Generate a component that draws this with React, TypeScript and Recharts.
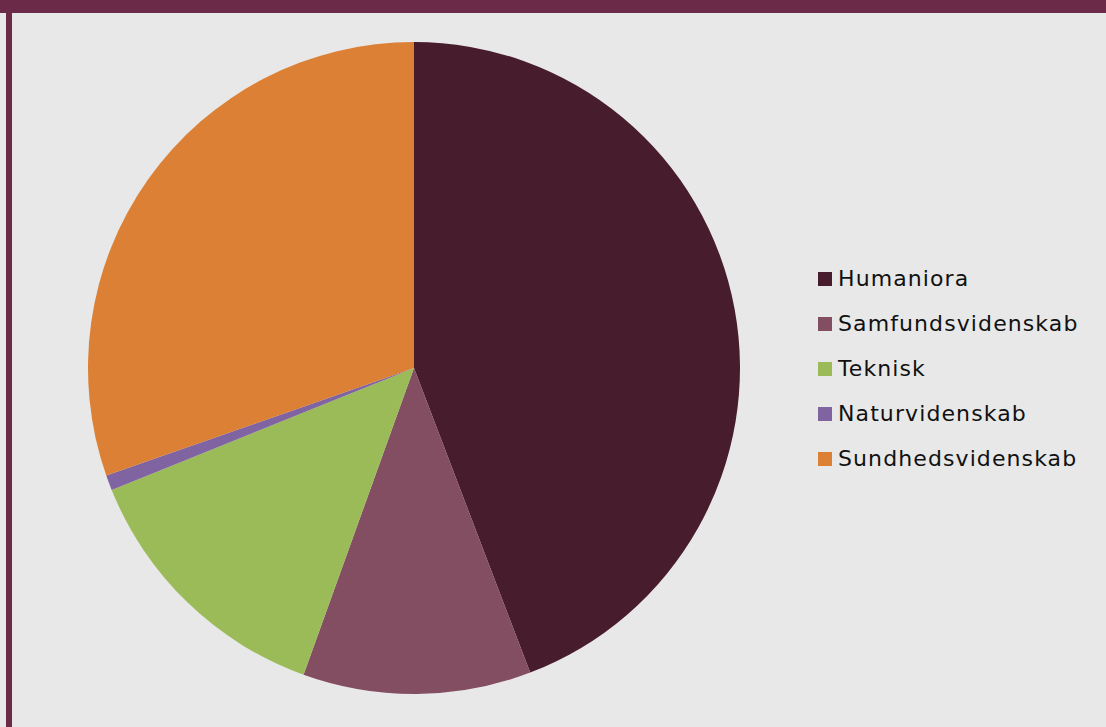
import React from 'react';
import { PieChart, Pie, Cell, Legend } from 'recharts';

const categories = ['Humaniora', 'Samfundsvidenskab', 'Teknisk', 'Naturvidenskab', 'Sundhedsvidenskab'];
const shares = [44.2, 11.3, 13.4, 0.75, 30.35];
const colors = ['#471c2d', '#834e62', '#9bbb59', '#8064a2', '#dc8035'];

const data = categories.map((name, i) => ({ name, value: shares[i] }));

// legend drawn in the data order (recharts would sort it by name)
const renderLegend = () => (
  <div style={{ fontFamily: '"DejaVu Sans", Verdana, sans-serif', fontSize: 22, letterSpacing: 1.1, color: '#111' }}>
    {categories.map((name, i) => (
      <div key={name} style={{ display: 'flex', alignItems: 'center', height: 45 }}>
        <span style={{ width: 14, height: 14, background: colors[i], marginRight: 6, display: 'inline-block' }} />
        <span>{name}</span>
      </div>
    ))}
  </div>
);

const App: React.FC = () => {
  return (
    <div style={{ position: 'fixed', left: 0, top: 0, width: 1106, height: 727, background: '#e8e8e8', overflow: 'hidden' }}>
      <div style={{ position: 'absolute', left: 0, top: 0, width: 1106, height: 13, background: '#6b2a47' }} />
      <div style={{ position: 'absolute', left: 6, top: 0, width: 6, height: 727, background: '#6b2a47' }} />
      <div style={{ position: 'absolute', left: 0, top: 0 }}>
        <PieChart width={1106} height={727} margin={{ top: 0, right: 0, bottom: 0, left: 0 }}>
          <Pie
            data={data}
            dataKey="value"
            nameKey="name"
            cx={414}
            cy={368}
            outerRadius={326}
            startAngle={90}
            endAngle={-270}
            stroke="none"
            isAnimationActive={false}
          >
            {data.map((d, i) => (
              <Cell key={d.name} fill={colors[i]} />
            ))}
          </Pie>
          <Legend
            content={renderLegend}
            layout="vertical"
            align="right"
            verticalAlign="middle"
            wrapperStyle={{ position: 'absolute', left: 818, top: 256, width: 285 }}
          />
        </PieChart>
      </div>
    </div>
  );
};

export default App;
